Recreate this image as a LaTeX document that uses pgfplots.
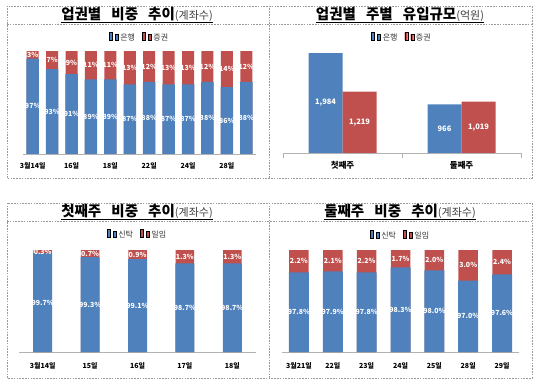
\documentclass[border=0pt]{standalone}
\usepackage{pgfplots}
\pgfplotsset{compat=1.18}
\usepackage{pgfplotstable}
\usepackage{fontspec}
\setmainfont{Noto Sans CJK KR}
\definecolor{cblue}{HTML}{4F81BD}
\definecolor{cred}{HTML}{C0504D}
\definecolor{boxgray}{HTML}{9A9A9A}

\pgfplotstableread{
x blue red
0 97 3
1 93 7
2 91 9
3 89 11
4 89 11
5 87 13
6 88 12
7 87 13
8 87 13
9 88 12
10 86 14
11 88 12
}\tableA
\pgfplotstableread{
x blue red
0 1984 1219
1 966 1019
}\tableB
\pgfplotstableread{
x blue red
0 99.7 0.3
1 99.3 0.7
2 99.1 0.9
3 98.7 1.3
4 98.7 1.3
}\tableC
\pgfplotstableread{
x blue red
0 97.8 2.2
1 97.9 2.1
2 97.8 2.2
3 98.3 1.7
4 98.0 2.0
5 97.0 3.0
6 97.6 2.4
}\tableD

\pgfplotsset{
  panel/.style={
    scale only axis,
    axis x line*=bottom,
    axis y line=none,
    x axis line style={draw=gray!60, line width=0.6pt},
    major tick length=0pt,
    /pgf/number format/assume math mode=true,
    xticklabel style={font=\fontsize{7}{8}\selectfont\bfseries, text=black},
    legend style={draw=none, fill=none, font=\fontsize{8}{9}\selectfont, text=black!80,
      legend columns=2, /tikz/every even column/.append style={column sep=5pt},
      inner sep=1pt},
    legend image code/.code={\fill[##1] (0pt,-2pt) rectangle (4pt,2pt);},
  },
  lbl/.style={
    point meta=explicit,
    every node near coord/.append style={anchor=center, text=white,
      font=\fontsize{7}{8}\selectfont\bfseries},
  },
  lblonly/.style={lbl, draw=none, fill=none, forget plot,
    nodes near coords={\pgfmathprintnumber{\pgfplotspointmeta}\%}},
}
\newcommand{\ptitle}[2]{{\fontsize{14.5}{15}\selectfont\bfseries #1}{\fontsize{11}{12}\selectfont\color{black!75}#2}}

\begin{document}
\begin{tikzpicture}[x=1pt,y=1pt]
\useasboundingbox (0,0) rectangle (540,383);

% dashed frames
\begin{scope}[draw=boxgray, dash pattern=on 1.6pt off 1.2pt, line width=0.8pt]
\draw (7,205) rectangle (532,377);
\draw (7,359) -- (532,359);
\draw (269,205) -- (269,377);
\draw (7,5) rectangle (532,180);
\draw (7,162) -- (532,162);
\draw (269,5) -- (269,180);
\end{scope}

% titles
\node[anchor=base, inner sep=0pt] (t1) at (137,363) {\ptitle{업권별\hspace{0.7em}비중\hspace{0.7em}추이}{(계좌수)}};
\draw[line width=0.8pt] ([yshift=-2.5pt]t1.base west) -- ([yshift=-2.5pt]t1.base east);
\node[anchor=base, inner sep=0pt] (t2) at (400,363) {\ptitle{업권별\hspace{0.7em}주별\hspace{0.7em}유입규모}{(억원)}};
\draw[line width=0.8pt] ([yshift=-2.5pt]t2.base west) -- ([yshift=-2.5pt]t2.base east);
\node[anchor=base, inner sep=0pt] (t3) at (137,166) {\ptitle{첫째주\hspace{0.7em}비중\hspace{0.7em}추이}{(계좌수)}};
\draw[line width=0.8pt] ([yshift=-2.5pt]t3.base west) -- ([yshift=-2.5pt]t3.base east);
\node[anchor=base, inner sep=0pt] (t4) at (400,166) {\ptitle{둘째주\hspace{0.7em}비중\hspace{0.7em}추이}{(계좌수)}};
\draw[line width=0.8pt] ([yshift=-2.5pt]t4.base west) -- ([yshift=-2.5pt]t4.base east);

% Panel 1
\begin{axis}[panel, at={(23pt,229pt)}, anchor=south west,
  width=233pt, height=103pt,
  xmin=-0.5, xmax=11.5, ymin=60, ymax=100,
  ybar, bar shift=0pt, bar width=12.5pt,
  xtick={0,2,4,6,8,10},
  xticklabels={3월14일,16일,18일,22일,24일,28일},
  xticklabel style={yshift=-5pt},
  legend style={at={(0.5,1)}, anchor=center, yshift=13pt},
  /pgf/number format/.cd, fixed, precision=0]
\addplot[fill=cred, draw=none, forget plot, bar width=12pt] table[x=x, y expr=\thisrow{blue}+\thisrow{red}]{\tableA};
\addplot[fill=cblue, draw=none] table[x=x, y=blue]{\tableA};
\addlegendimage{fill=cred, draw=none}
\addplot[lblonly] table[x=x, y expr={(\thisrow{blue}+60)/2}, meta=blue]{\tableA};
\addplot[lblonly] table[x=x, y expr={\thisrow{blue}+\thisrow{red}/2}, meta=red]{\tableA};
\legend{은행,증권}
\end{axis}

% Panel 2
\begin{axis}[panel, at={(283pt,230pt)}, anchor=south west,
  width=238pt, height=126pt,
  xmin=-0.5, xmax=1.5, ymin=0, ymax=2500,
  ybar=0pt, bar width=34pt,
  xtick={0,1}, xticklabels={첫째주,둘째주},
  xticklabel style={yshift=-5pt, font=\fontsize{8.5}{9}\selectfont\bfseries},
  extra x ticks={-0.5,0.5,1.5}, extra x tick labels={},
  extra x tick style={major tick length=5pt, tick align=outside,
    tick style={draw=gray!60, line width=0.6pt}},
  legend style={at={(0.5,1)}, anchor=center, yshift=-11pt},
  /pgf/number format/.cd, fixed, precision=0, 1000 sep={,}]
\addplot[fill=cblue, draw=none, lbl, visualization depends on={rawy \as \val},
  nodes near coords={\pgfmathprintnumber{\pgfplotspointmeta}},
  every node near coord/.append style={font=\fontsize{7.5}{8}\selectfont\bfseries,
    shift={(axis direction cs:0,{-(\val)/2})}}]
  table[x=x,y=blue,meta=blue]{\tableB};
\addplot[fill=cred, draw=none, lbl, visualization depends on={rawy \as \val},
  nodes near coords={\pgfmathprintnumber{\pgfplotspointmeta}},
  every node near coord/.append style={font=\fontsize{7.5}{8}\selectfont\bfseries,
    shift={(axis direction cs:0,{-(\val)/2})}}]
  table[x=x,y=red,meta=red]{\tableB};
\legend{은행,증권}
\end{axis}

% Panel 3
\begin{axis}[panel, at={(19pt,31pt)}, anchor=south west,
  width=237pt, height=102pt,
  xmin=-0.5, xmax=4.5, ymin=90, ymax=100,
  ybar, bar shift=0pt, bar width=19pt,
  xtick={0,1,2,3,4},
  xticklabels={3월14일,15일,16일,17일,18일},
  xticklabel style={yshift=-7pt},
  legend style={at={(0.5,1)}, anchor=center, yshift=15pt},
  /pgf/number format/.cd, fixed, fixed zerofill, precision=1]
\addplot[fill=cred, draw=none, forget plot, bar width=18.5pt] table[x=x, y expr=\thisrow{blue}+\thisrow{red}]{\tableC};
\addplot[fill=cblue, draw=none] table[x=x, y=blue]{\tableC};
\addlegendimage{fill=cred, draw=none}
\addplot[lblonly] table[x=x, y expr={(\thisrow{blue}+90)/2}, meta=blue]{\tableC};
\addplot[lblonly] table[x=x, y expr={\thisrow{blue}+\thisrow{red}/2}, meta=red]{\tableC};
\legend{신탁,일임}
\end{axis}

% Panel 4
\begin{axis}[panel, at={(282pt,31pt)}, anchor=south west,
  width=237pt, height=102pt,
  xmin=-0.5, xmax=6.5, ymin=90, ymax=100,
  ybar, bar shift=0pt, bar width=20pt,
  xtick={0,1,2,3,4,5,6},
  xticklabels={3월21일,22일,23일,24일,25일,28일,29일},
  xticklabel style={yshift=-7pt},
  legend style={at={(0.5,1)}, anchor=center, yshift=14pt},
  /pgf/number format/.cd, fixed, fixed zerofill, precision=1]
\addplot[fill=cred, draw=none, forget plot, bar width=19.5pt] table[x=x, y expr=\thisrow{blue}+\thisrow{red}]{\tableD};
\addplot[fill=cblue, draw=none] table[x=x, y=blue]{\tableD};
\addlegendimage{fill=cred, draw=none}
\addplot[lblonly] table[x=x, y expr={(\thisrow{blue}+90)/2}, meta=blue]{\tableD};
\addplot[lblonly] table[x=x, y expr={\thisrow{blue}+\thisrow{red}/2}, meta=red]{\tableD};
\legend{신탁,일임}
\end{axis}
\end{tikzpicture}
\end{document}
